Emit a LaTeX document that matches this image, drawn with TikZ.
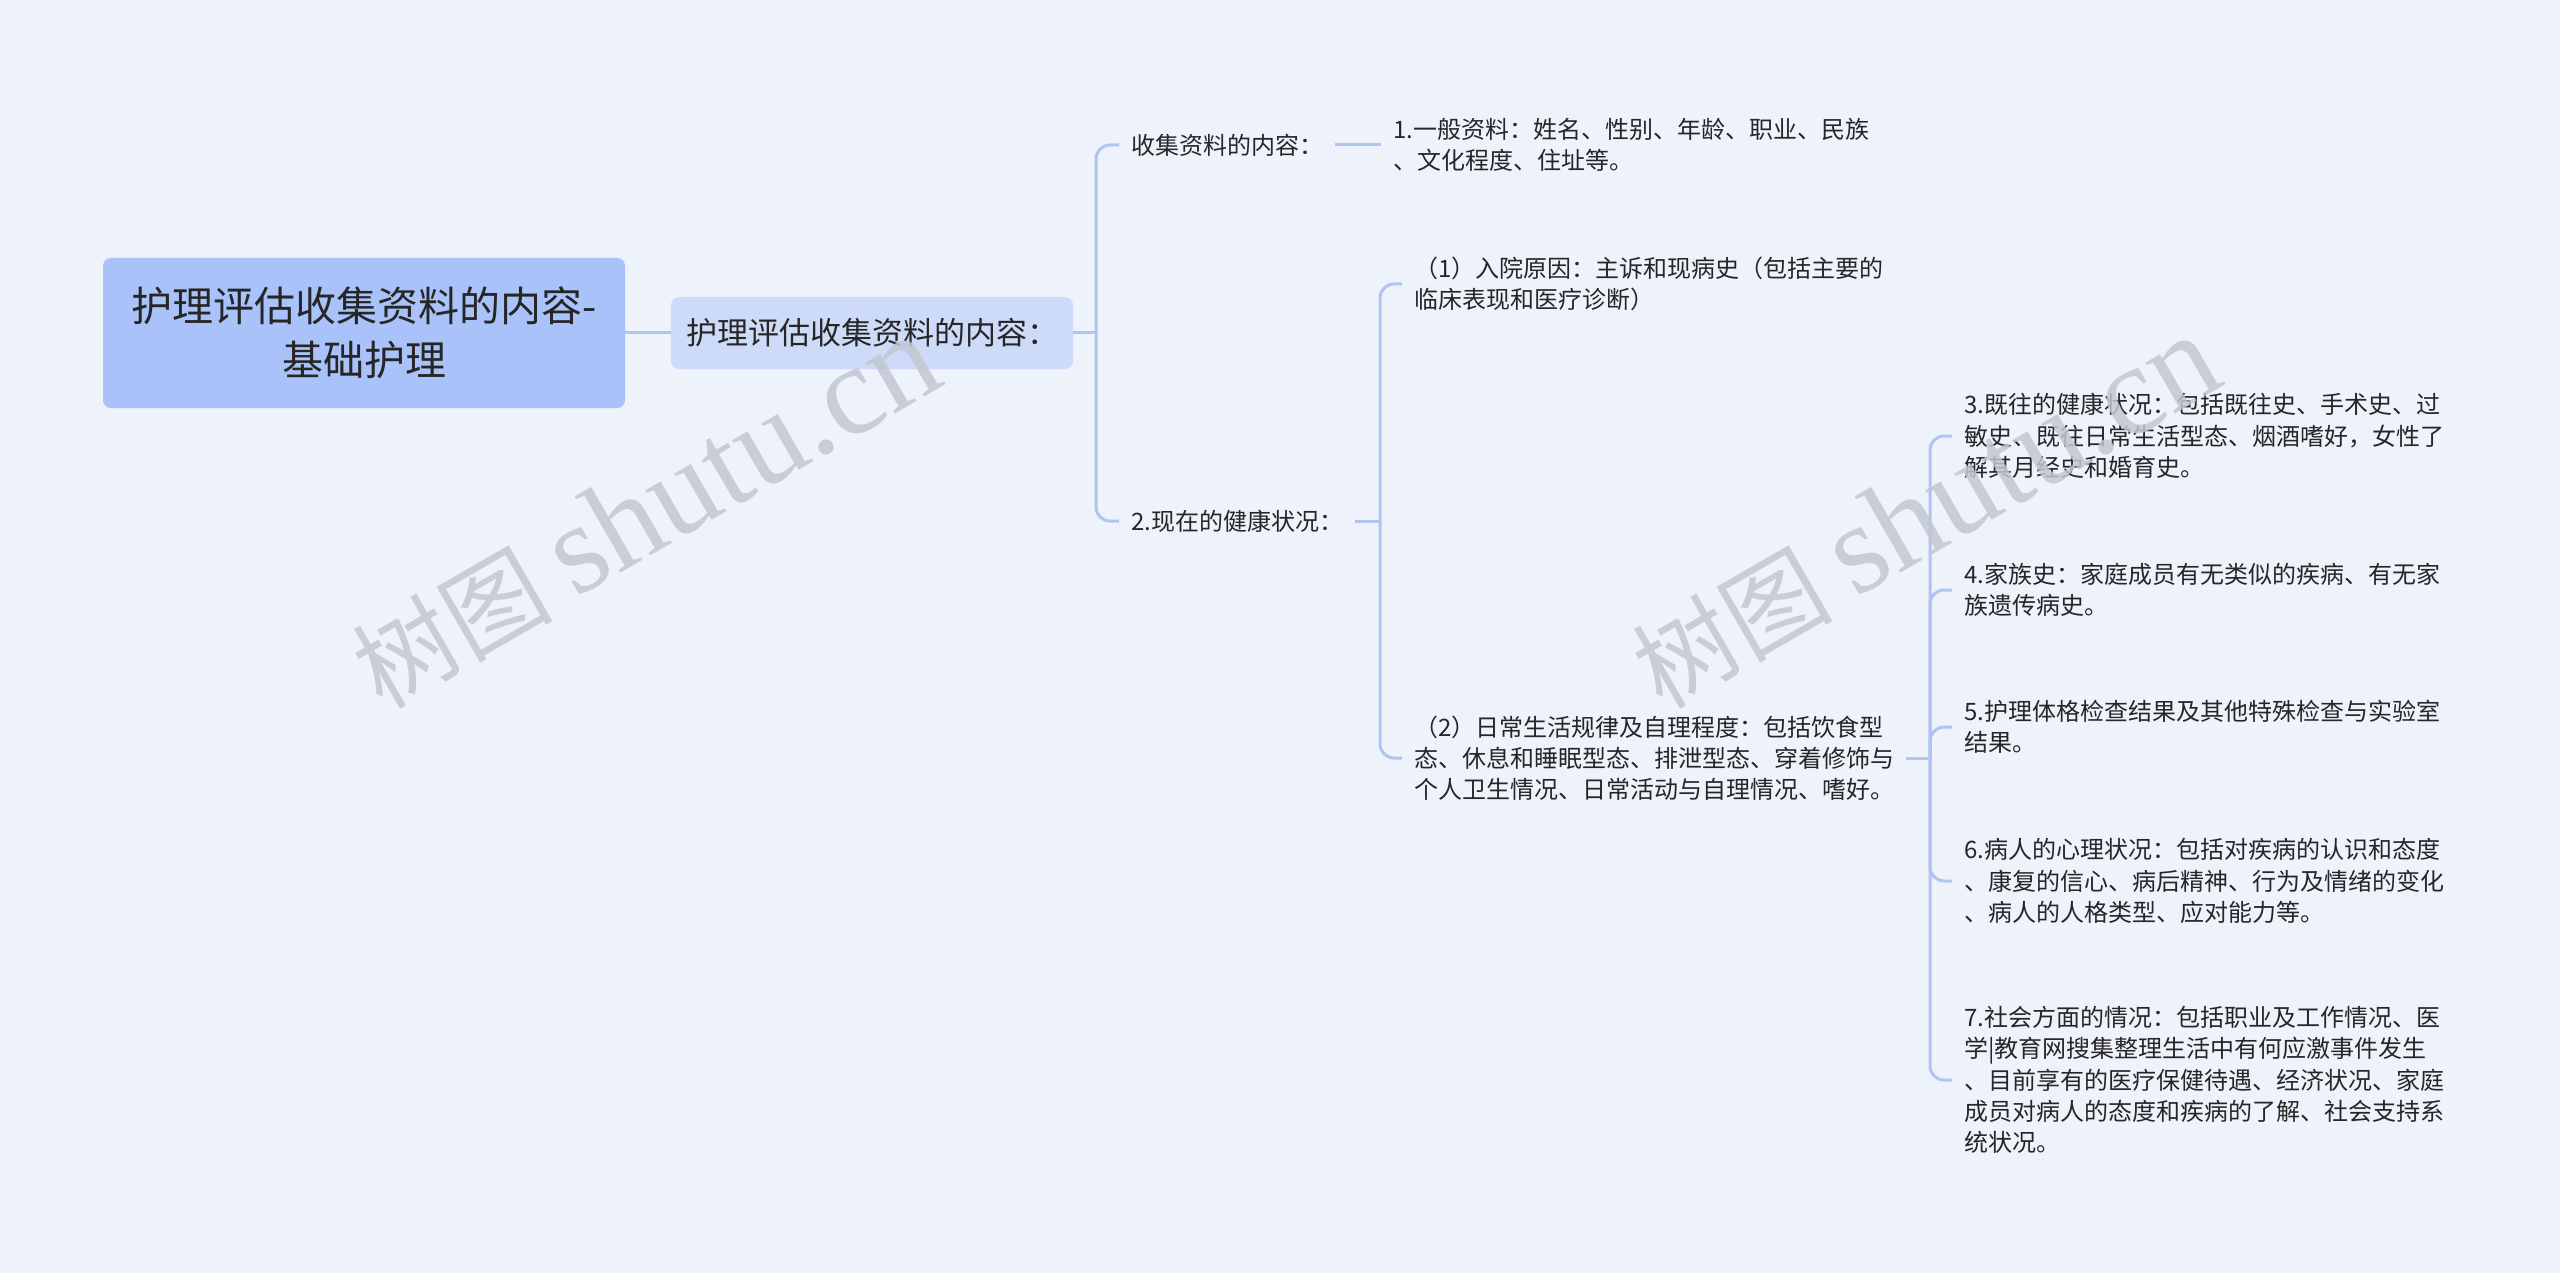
\documentclass[tikz,border=0pt]{standalone}
\usepackage{fontspec}
\setmainfont{Noto Sans CJK SC}
\newfontfamily\wmlatin{Liberation Serif}
\newfontfamily\wmcjk{Noto Sans CJK SC}
\definecolor{bgc}{HTML}{EEF2FB}
\definecolor{rootc}{HTML}{A9C2F9}
\definecolor{subc}{HTML}{CDDBF9}
\definecolor{linec}{HTML}{AFC4F0}
\definecolor{textc}{HTML}{262626}
\definecolor{wmc}{HTML}{C2C7D1}
\tikzset{
  rootbox/.style={fill=rootc, rounded corners=8pt, minimum width=522pt, minimum height=150pt,
    align=center, text=textc, inner sep=0pt, font=\fontsize{41}{54}\selectfont},
  subbox/.style={fill=subc, rounded corners=8pt, minimum width=402pt, minimum height=72pt,
    align=center, text=textc, inner sep=0pt, font=\fontsize{31}{36}\selectfont},
  leaf/.style={anchor=west, align=left, text=textc, inner xsep=12pt, inner ysep=0pt,
    font=\fontsize{24}{31.3}\selectfont},
  conn/.style={draw=linec, line width=3pt},
  bracket/.style={conn, rounded corners=14pt},
  wm/.style={text=wmc, text opacity=0.85, rotate=30, inner sep=0pt}
}
\begin{document}
\begin{tikzpicture}[x=1pt, y=-1pt]
\fill[bgc] (0,0) rectangle (2560,1273);
\useasboundingbox (0,0) rectangle (2560,1273);

\node[rootbox] (root) at (364,333) {护理评估收集资料的内容-\\基础护理};
\node[subbox] (sub) at (872,333) {护理评估收集资料的内容：};

\node[leaf] (k1) at (1119,145) {收集资料的内容：};
\node[leaf] (k2) at (1119,521) {2.现在的健康状况：};

\node[leaf] (g1) at (1381,145) {1.一般资料：姓名、性别、年龄、职业、民族\\、文化程度、住址等。};

\node[leaf] (h1) at (1402,284) {（1）入院原因：主诉和现病史（包括主要的\\临床表现和医疗诊断）};
\node[leaf] (h2) at (1402,758) {（2）日常生活规律及自理程度：包括饮食型\\态、休息和睡眠型态、排泄型态、穿着修饰与\\个人卫生情况、日常活动与自理情况、嗜好。};

\node[leaf] (m3) at (1952,436) {3.既往的健康状况：包括既往史、手术史、过\\敏史、既往日常生活型态、烟酒嗜好，女性了\\解其月经史和婚育史。};
\node[leaf] (m4) at (1952,590) {4.家族史：家庭成员有无类似的疾病、有无家\\族遗传病史。};
\node[leaf] (m5) at (1952,727) {5.护理体格检查结果及其他特殊检查与实验室\\结果。};
\node[leaf] (m6) at (1952,881) {6.病人的心理状况：包括对疾病的认识和态度\\、康复的信心、病后精神、行为及情绪的变化\\、病人的人格类型、应对能力等。};
\node[leaf] (m7) at (1952,1080) {7.社会方面的情况：包括职业及工作情况、医\\学|教育网搜集整理生活中有何应激事件发生\\、目前享有的医疗保健待遇、经济状况、家庭\\成员对病人的态度和疾病的了解、社会支持系\\统状况。};

% connectors
\draw[conn] (root.east) -- (sub.west);

\coordinate (b1) at ([xshift=-23pt]sub.east -| k1.west);
\draw[conn] (sub.east) -- (b1);
\draw[bracket] (b1) |- (k1.west);
\draw[bracket] (b1) |- (k2.west);

\draw[conn] (k1.east) -- (k1.east -| g1.west);

\coordinate (b2) at ([xshift=-22pt]k2.east -| h1.west);
\draw[conn] (k2.east) -- (b2);
\draw[bracket] (b2) |- (h1.west);
\draw[bracket] (b2) |- (h2.west);

\coordinate (b3) at ([xshift=-22pt]h2.east -| m3.west);
\draw[conn] (h2.east) -- (b3);
\foreach \m in {m3,m4,m5,m6,m7}{
  \draw[bracket] (b3) |- (\m.west);
}

% watermarks
\node[wm] (wm1) at (645,512) {\fontsize{100}{100}\selectfont\wmcjk 树图\ \fontsize{128}{128}\selectfont\wmlatin shutu.cn};
\node[wm] (wm2) at (1925,512) {\fontsize{100}{100}\selectfont\wmcjk 树图\ \fontsize{128}{128}\selectfont\wmlatin shutu.cn};
\end{tikzpicture}
\end{document}
